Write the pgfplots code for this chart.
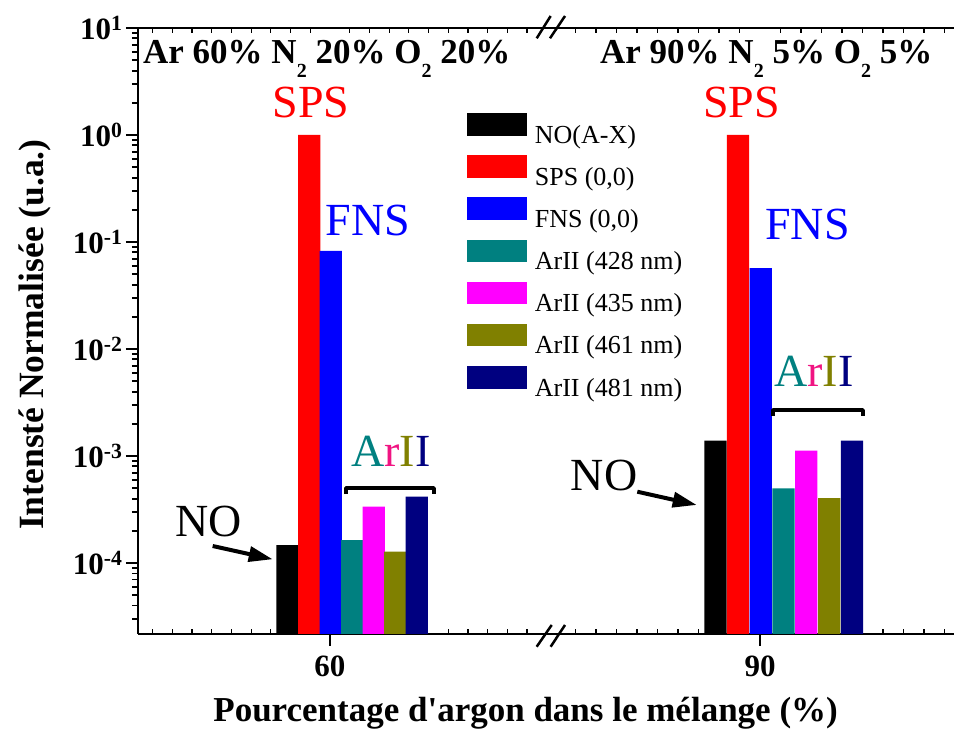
\documentclass[border=0pt]{standalone}
\usepackage{fontspec}
\setmainfont{Liberation Serif}
\usepackage{pgfplots}
\pgfplotsset{compat=1.18}
\usetikzlibrary{arrows.meta}
\definecolor{cteal}{RGB}{0,128,128}
\definecolor{cmag}{RGB}{255,0,255}
\definecolor{colive}{RGB}{128,128,0}
\definecolor{cnavy}{RGB}{0,0,128}
\definecolor{cblue}{RGB}{0,0,255}
\definecolor{cred}{RGB}{255,0,0}
\definecolor{cpink}{RGB}{240,20,130}
\newcommand\fs[1]{\fontsize{#1}{#1}\selectfont}
\newcommand\sub[1]{\raisebox{-0.4em}{\fs{20}#1}}
\pgfplotsset{
  B/.style={ybar, bar width=22.2, bar shift=0pt, draw=none, fill=#1,
    legend image code/.code={\fill[fill=#1] (0pt,-1pt) rectangle (60pt,21.7pt);}},
}
\begin{document}
\begin{tikzpicture}
\begin{axis}[
  scale only axis, width=816pt, height=606pt,
  xmin=138, xmax=954,
  ymode=log, ymin=2.17e-5, ymax=10, log origin=infty,
  axis x line=box, axis y line=left,
  axis line style={-, line width=2.2pt},
  clip=false,
  tick align=outside,
  major tick length=12pt, minor tick length=6pt,
  every tick/.style={black, line width=2pt},
  xtick={330,760}, xticklabels={60,90}, xtick pos=bottom,
  ytick={1e-4,1e-3,1e-2,1e-1,1,10},
  yticklabels={10\textsuperscript{-4},10\textsuperscript{-3},10\textsuperscript{-2},10\textsuperscript{-1},10\textsuperscript{0},10\textsuperscript{1}},
  tick label style={font=\fs{31}\bfseries},
  xticklabel style={yshift=-6pt},
  xlabel={Pourcentage d\textquotesingle argon dans le mélange (\%)},
  ylabel={Intensté Normalisée (u.a.)},
  every axis x label/.style={at={(rel axis cs:0.475,0)}, anchor=base, yshift=-88pt, font=\fs{35}\bfseries},
  every axis y label/.style={at={(rel axis cs:-0.1164,0.494)}, rotate=90, anchor=base, font=\fs{35.5}\bfseries},
  legend style={at={(rel axis cs:0.4028,0.8597)}, anchor=north west, draw=none, fill=none,
    inner sep=0pt, row sep=6.9pt, font=\fs{26},
    nodes={inner sep=0pt, text height=22pt, text depth=5pt},
    /tikz/every odd column/.append style={column sep=8pt}},
  legend cell align=left,
]
\addplot[B=black]  coordinates {(287.5,1.47e-4) (715.5,1.39e-3)};
\addplot[B=cred]   coordinates {(309.2,1.0) (738.0,1.0)};
\addplot[B=cblue]  coordinates {(330.7,0.0824) (760.7,0.0571)};
\addplot[B=cteal]  coordinates {(352.3,1.64e-4) (783.5,4.99e-4)};
\addplot[B=cmag]   coordinates {(373.8,3.36e-4) (806.3,1.12e-3)};
\addplot[B=colive] coordinates {(395.2,1.28e-4) (829.2,4.03e-4)};
\addplot[B=cnavy]  coordinates {(416.7,4.17e-4) (852.0,1.39e-3)};
\legend{NO(A-X),{SPS (0,0)},{FNS (0,0)},ArII (428 nm),ArII (435 nm),ArII (461 nm),ArII (481 nm)}

% minor y ticks (outside, left)
\pgfplotsinvokeforeach{3e-5,4e-5,5e-5,6e-5,7e-5,8e-5,9e-5,
    2e-4,3e-4,4e-4,5e-4,6e-4,7e-4,8e-4,9e-4,
    2e-3,3e-3,4e-3,5e-3,6e-3,7e-3,8e-3,9e-3,
    2e-2,3e-2,4e-2,5e-2,6e-2,7e-2,8e-2,9e-2,
    0.2,0.3,0.4,0.5,0.6,0.7,0.8,0.9,2,3,4,5,6,7,8,9}{
  \draw[line width=1.6pt] (axis cs:138,#1) -- ++(-6pt,0pt);}
% minor x ticks (inside)
\pgfplotsinvokeforeach{152.7,172.4,192.1,211.8,231.5,251.2,270.9,448.2,467.9,487.6,507.3,527.0,575.5,596,616.5,637,657.5,678,698.5,883,903.5,924,944.5}{
  \draw[line width=1.2pt] (axis cs:#1,2.17e-5) -- ++(0pt,5pt);}
\pgfplotsinvokeforeach{152.7,172.4,192.1,211.8,231.5,251.2,270.9,290.6,310.3,349.7,369.4,389.1,408.8,428.5,448.2,467.9,487.6,507.3,527.0,575.5,596,616.5,637,657.5,678,698.5,719,739.5,780.5,801,821.5,842,862.5,883,903.5,924,944.5}{
  \draw[line width=1.2pt] (axis cs:#1,10) -- ++(0pt,-5pt);}

% axis break marks
\draw[line width=2.5pt] (rel axis cs:0.4886,-0.0210) -- (rel axis cs:0.5070,0.0149);
\draw[line width=2.5pt] (rel axis cs:0.5057,-0.0210) -- (rel axis cs:0.5233,0.0149);
\draw[line width=2.5pt] (rel axis cs:0.4886,0.9830) -- (rel axis cs:0.5057,1.0198);
\draw[line width=2.5pt] (rel axis cs:0.5049,0.9830) -- (rel axis cs:0.5233,1.0198);

% titles
\node[anchor=base west, font=\fs{35}\bfseries, inner sep=0pt] at (rel axis cs:0.00613,0.9422) {Ar 60\% N\sub{2} 20\% O\sub{2} 20\%};
\node[anchor=base west, font=\fs{35}\bfseries, inner sep=0pt] at (rel axis cs:0.5662,0.9422) {Ar 90\% N\sub{2} 5\% O\sub{2} 5\%};

% labels
\node[anchor=base, font=\fs{46}, text=cred, inner sep=0pt] at (rel axis cs:0.2120,0.8515) {SPS};
\node[anchor=base, font=\fs{46}, text=cred, inner sep=0pt] at (rel axis cs:0.7396,0.8515) {SPS};
\node[anchor=base, font=\fs{46}, text=cblue, inner sep=0pt] at (rel axis cs:0.2819,0.6584) {FNS};
\node[anchor=base, font=\fs{46}, text=cblue, inner sep=0pt] at (rel axis cs:0.8205,0.6502) {FNS};
\node[anchor=base, font=\fs{46}, inner sep=0pt] at (rel axis cs:0.0870,0.1601) {NO};
\node[anchor=base, font=\fs{46}, inner sep=0pt] at (rel axis cs:0.5711,0.2376) {NO};
\draw[line width=4pt, -{Triangle[length=24pt,width=15pt]}] (rel axis cs:0.0915,0.1452) -- (rel axis cs:0.1651,0.1233);
\draw[line width=4pt, -{Triangle[length=24pt,width=15pt]}] (rel axis cs:0.6119,0.2348) -- (rel axis cs:0.6847,0.2129);
\node[anchor=base, font=\fs{46}, inner sep=0pt] at (rel axis cs:0.3100,0.2772) {{\color{cteal}A}{\color{cpink}r}{\color{colive}I}{\color{cnavy}I}};
\node[anchor=base, font=\fs{46}, inner sep=0pt] at (rel axis cs:0.8284,0.4076) {{\color{cteal}A}{\color{cpink}r}{\color{colive}I}{\color{cnavy}I}};
\draw[line width=3.5pt, line join=round] (rel axis cs:0.2549,0.2310) -- (rel axis cs:0.2549,0.2409) -- (rel axis cs:0.3627,0.2409) -- (rel axis cs:0.3627,0.2310);
\draw[line width=3.5pt, line join=round] (rel axis cs:0.7782,0.3597) -- (rel axis cs:0.7782,0.3696) -- (rel axis cs:0.8885,0.3696) -- (rel axis cs:0.8885,0.3597);

\coordinate (BL) at (rel axis cs:0,0);
\coordinate (TR) at (rel axis cs:1,1);
\end{axis}
\pgfresetboundingbox
\path[use as bounding box] ([xshift=-138pt,yshift=-95pt]BL) rectangle ([yshift=28pt]TR);
\end{tikzpicture}
\end{document}
